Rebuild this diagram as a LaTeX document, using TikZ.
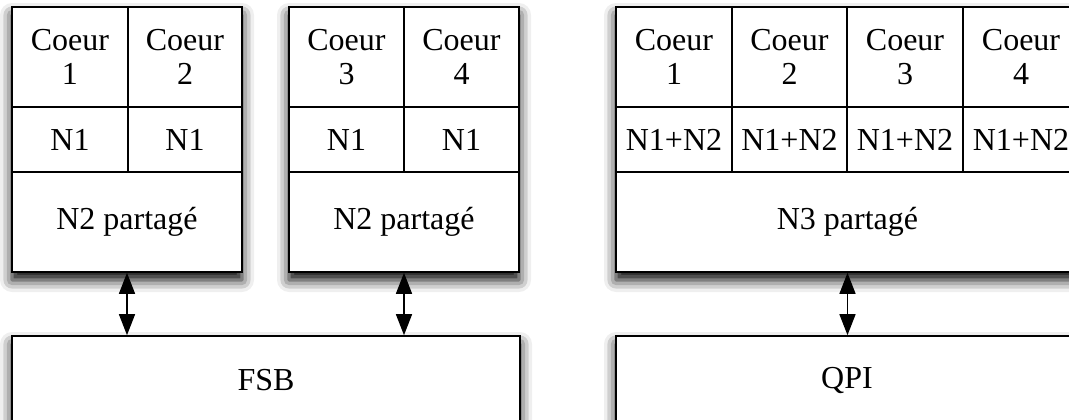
\documentclass[tikz,border=0pt]{standalone}
\usepackage{fontspec}
\setmainfont{Liberation Serif}
\usetikzlibrary{shadows.blur,arrows.meta}
\begin{document}
\begin{tikzpicture}[x=1pt,y=-1pt,
  blk/.style={draw,line width=1.6pt,fill=white,inner sep=0pt,
    blur shadow={shadow xshift=0pt,shadow yshift=-8pt,shadow blur radius=12pt,shadow opacity=100}},
  cell/.style={draw,line width=1.6pt,inner sep=0pt,align=center,
    font=\fontsize{32}{34}\selectfont},
  link/.style={line width=1.4pt,
    {Triangle[width=16pt,length=21pt]}-{Triangle[width=16pt,length=21pt]}}]
\useasboundingbox (0,0) rectangle (1069,420);
\clip (0,0) rectangle (1069,420);
% block 1
\node[blk,minimum width=230pt,minimum height=265pt] (b1) at (127,139.5) {};
\node[cell,minimum width=116pt,minimum height=100pt] (c1) at (70,57) {Coeur\\1};
\node[cell,minimum width=114pt,minimum height=100pt] (c2) at (185,57) {Coeur\\2};
\node[cell,minimum width=116pt,minimum height=65pt] (n1a) at (70,139.5) {N1};
\node[cell,minimum width=114pt,minimum height=65pt] (n1b) at (185,139.5) {N1};
\node[cell,minimum width=230pt,minimum height=100pt] (l2a) at (127,222) {N2 partagé};
% block 2
\node[blk,minimum width=230pt,minimum height=265pt] (b2) at (404,139.5) {};
\node[cell,minimum width=115pt,minimum height=100pt] (c3) at (346.5,57) {Coeur\\3};
\node[cell,minimum width=115pt,minimum height=100pt] (c4) at (461.5,57) {Coeur\\4};
\node[cell,minimum width=115pt,minimum height=65pt] (n1c) at (346.5,139.5) {N1};
\node[cell,minimum width=115pt,minimum height=65pt] (n1d) at (461.5,139.5) {N1};
\node[cell,minimum width=230pt,minimum height=100pt] (l2b) at (404,222) {N2 partagé};
% block 3
\node[blk,minimum width=463pt,minimum height=265pt] (b3) at (847.5,139.5) {};
\node[cell,minimum width=116pt,minimum height=100pt] (d1) at (674,57) {Coeur\\1};
\node[cell,minimum width=115pt,minimum height=100pt] (d2) at (789.5,57) {Coeur\\2};
\node[cell,minimum width=116pt,minimum height=100pt] (d3) at (905,57) {Coeur\\3};
\node[cell,minimum width=116pt,minimum height=100pt] (d4) at (1021,57) {Coeur\\4};
\node[cell,minimum width=116pt,minimum height=65pt] (m1) at (674,139.5) {N1+N2};
\node[cell,minimum width=115pt,minimum height=65pt] (m2) at (789.5,139.5) {N1+N2};
\node[cell,minimum width=116pt,minimum height=65pt] (m3) at (905,139.5) {N1+N2};
\node[cell,minimum width=116pt,minimum height=65pt] (m4) at (1021,139.5) {N1+N2};
\node[cell,minimum width=463pt,minimum height=100pt] (l3) at (847.5,222) {N3 partagé};
% buses
\node[blk,cell,minimum width=508pt,minimum height=88pt] (fsb) at (266,380) {FSB};
\node[blk,cell,minimum width=462pt,minimum height=88pt] (qpi) at (847,380) {QPI};
% links
\draw[link] (l2a.south) -- (l2a.south |- fsb.north);
\draw[link] (l2b.south) -- (l2b.south |- fsb.north);
\draw[link] (l3.south) -- (l3.south |- qpi.north);
\end{tikzpicture}
\end{document}
